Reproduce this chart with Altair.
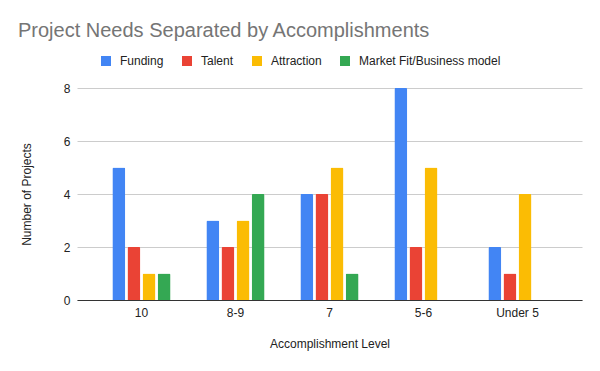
import altair as alt
import pandas as pd

categories = ["10", "8-9", "7", "5-6", "Under 5"]
series = ["Funding", "Talent", "Attraction", "Market Fit/Business model"]
funding = [5, 3, 4, 8, 2]
talent = [2, 2, 4, 2, 1]
attraction = [1, 3, 5, 5, 4]
market_fit = [1, 4, 1, 0, 0]
colors = ["#4285F4", "#EA4335", "#FBBC04", "#34A853"]
y_ticks = [0, 2, 4, 6, 8]

rows = []
for s, vals in zip(series, [funding, talent, attraction, market_fit]):
    for c, v in zip(categories, vals):
        rows.append({"level": c, "need": s, "count": v})
df = pd.DataFrame(rows)

FONT = "Liberation Sans"

chart = alt.Chart(df).mark_bar(
    cornerRadiusTopLeft=1.5, cornerRadiusTopRight=1.5
).encode(
    x=alt.X("level:N", sort=categories, title="Accomplishment Level",
            scale=alt.Scale(paddingInner=0.38, paddingOuter=0.376),
            axis=alt.Axis(labelAngle=0, ticks=False, domain=True, domainColor="#333333",
                          labelPadding=7, titlePadding=20, labelFontSize=12, titleFontSize=12,
                          labelColor="#222222", titleColor="#222222", labelFont=FONT, titleFont=FONT,
                          titleFontWeight="normal")),
    xOffset=alt.XOffset("need:N", sort=series,
                        scale=alt.Scale(paddingInner=0.14, paddingOuter=0)),
    y=alt.Y("count:Q", title="Number of Projects",
            scale=alt.Scale(domain=[0, 8], nice=False),
            axis=alt.Axis(values=y_ticks, ticks=False, domain=False, gridColor="#cccccc",
                          labelPadding=7, titlePadding=30, labelFontSize=12, titleFontSize=12,
                          labelColor="#222222", titleColor="#222222", labelFont=FONT, titleFont=FONT,
                          titleFontWeight="normal")),
    color=alt.Color("need:N", sort=series,
                    scale=alt.Scale(domain=series, range=colors),
                    legend=alt.Legend(title=None, orient="none", direction="horizontal",
                                      legendX=23, legendY=-33, symbolType="square",
                                      symbolSize=100, symbolStrokeWidth=0, labelFontSize=12,
                                      labelFont=FONT, labelColor="#222222", labelOffset=8,
                                      columnPadding=17)),
).properties(
    width=505, height=212,
    autosize=alt.AutoSizeParams(type="none"),
    padding={"left": 69, "right": 10, "top": 80, "bottom": 63},
    title=alt.TitleParams("Project Needs Separated by Accomplishments", anchor="start",
                          frame="group", dx=-59, dy=20, offset=18, baseline="alphabetic",
                          fontSize=20, font=FONT, fontWeight="normal", color="#757575"),
).configure_view(stroke=None)

chart.save("out.html", embed_options={"renderer": "svg", "actions": False})
